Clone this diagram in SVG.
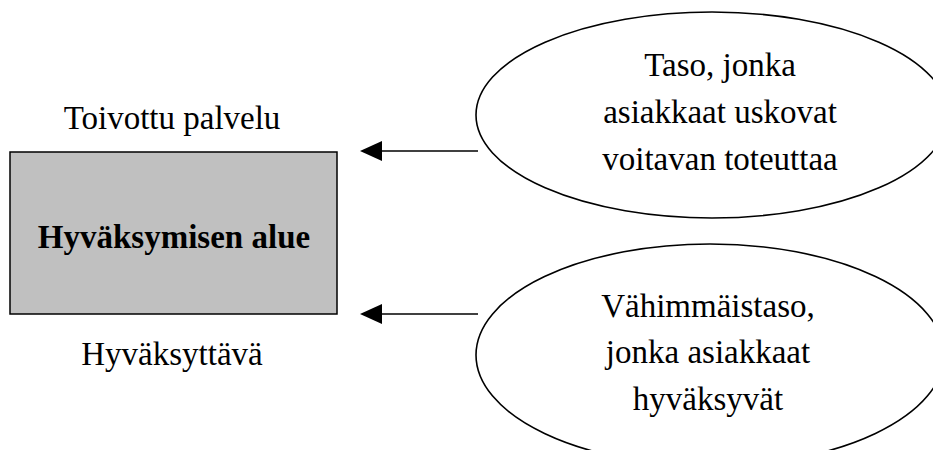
<svg xmlns="http://www.w3.org/2000/svg" width="933" height="450" viewBox="0 0 933 450">
  <style>
    text { font-family: "Liberation Serif", "Times New Roman", serif; font-size: 33px; fill: #000; text-anchor: middle; }
    .bold { font-weight: bold; }
    .shape { fill: #fff; stroke: #000; stroke-width: 1.6; }
    .box { fill: #c0c0c0; stroke: #000; stroke-width: 1.5; }
    .link { stroke: #000; stroke-width: 1.6; fill: none; }
  </style>
  <defs>
    <marker id="head" viewBox="0 0 22 20" refX="0" refY="10" markerWidth="22" markerHeight="20" markerUnits="userSpaceOnUse" orient="auto-start-reverse">
      <path d="M0,0 L22,10 L0,20 Z" fill="#000"/>
    </marker>
  </defs>

  <rect width="933" height="450" fill="#fff"/>

  <g id="acceptance-zone">
    <text x="172" y="129">Toivottu palvelu</text>
    <rect class="box" x="10" y="152" width="327" height="162"/>
    <text class="bold" x="174" y="248">Hyväksymisen alue</text>
    <text x="172" y="365">Hyväksyttävä</text>
  </g>

  <g id="desired-level">
    <ellipse class="shape" cx="712" cy="115" rx="236" ry="103"/>
    <text x="720" y="76">Taso, jonka</text>
    <text x="720" y="123">asiakkaat uskovat</text>
    <text x="720" y="170">voitavan toteuttaa</text>
  </g>

  <g id="minimum-level">
    <ellipse class="shape" cx="710" cy="355" rx="234" ry="111"/>
    <text x="708" y="317">Vähimmäistaso,</text>
    <text x="708" y="363">jonka asiakkaat</text>
    <text x="708" y="410">hyväksyvät</text>
  </g>

  <g id="connectors">
    <line class="link" x1="478" y1="151" x2="382" y2="151" marker-end="url(#head)"/>
    <line class="link" x1="478" y1="314" x2="382" y2="314" marker-end="url(#head)"/>
  </g>
</svg>
